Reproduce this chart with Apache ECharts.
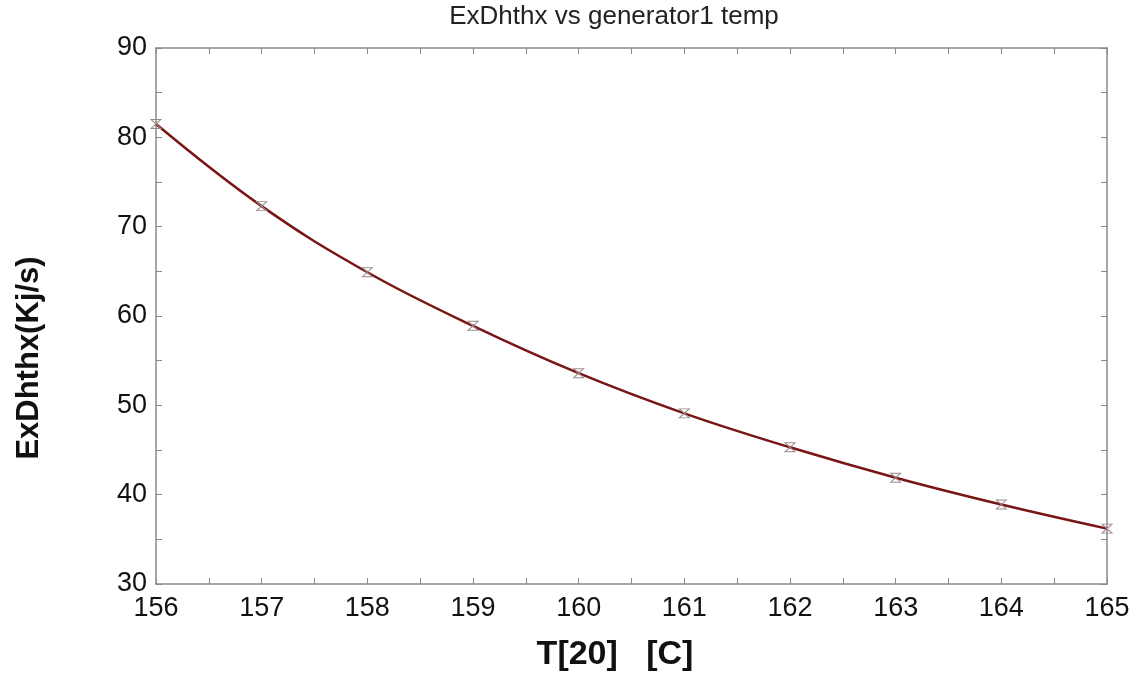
<!DOCTYPE html>
<html>
<head>
<meta charset="utf-8">
<script src="https://cdn.jsdelivr.net/npm/echarts@6/dist/echarts.min.js"></script>
<style>
  html, body { margin: 0; padding: 0; background: #fff; }
  #chart { width: 1139px; height: 682px; }
</style>
</head>
<body>
<div id="chart"></div>
<script>
// Generator 1 temperature T[20] in °C
const temps = [156, 157, 158, 159, 160, 161, 162, 163, 164, 165];
// Exergy destruction in the heat exchanger, kJ/s
const exDhthx = [81.5, 72.3, 64.9, 58.9, 53.6, 49.1, 45.3, 41.9, 38.9, 36.2];

const chartTitle = 'ExDhthx vs generator1 temp';
const xName = 'T[20]   [C]';
const yName = 'ExDhthx(Kj/s)';

const axisGray = '#8a8a8a';
const fontFam = '"Liberation Sans", Arial, sans-serif';

const tickCommon = {
  axisLine: { show: true, lineStyle: { color: axisGray, width: 1.5 } },
  axisTick: { show: true, inside: true, length: 6, lineStyle: { color: axisGray } },
  minorTick: { show: true, splitNumber: 2, length: 6, lineStyle: { color: axisGray } },
  splitLine: { show: false }
};

const chart = echarts.init(document.getElementById('chart'));
chart.setOption({
  backgroundColor: '#fff',
  animation: false,
  grid: { left: 156, right: 32, top: 48, bottom: 98 },
  xAxis: [
    Object.assign({
      type: 'value', min: 156, max: 165, interval: 1, position: 'bottom',
      axisLabel: { fontFamily: fontFam, fontSize: 27, color: '#111', margin: 11 }
    }, tickCommon),
    Object.assign({
      type: 'value', min: 156, max: 165, interval: 1, position: 'top',
      axisLabel: { show: false }
    }, tickCommon)
  ],
  yAxis: [
    Object.assign({
      type: 'value', min: 30, max: 90, interval: 10, position: 'left',
      axisLabel: { fontFamily: fontFam, fontSize: 27, color: '#111', margin: 9 }
    }, tickCommon),
    Object.assign({
      type: 'value', min: 30, max: 90, interval: 10, position: 'right',
      axisLabel: { show: false }
    }, tickCommon)
  ],
  graphic: [
    {
      type: 'text', x: 614, y: 17,
      style: {
        text: chartTitle, fontFamily: fontFam, fontSize: 26, fill: '#222',
        textAlign: 'center', textVerticalAlign: 'middle'
      }
    },
    {
      type: 'text', x: 615, y: 655,
      style: {
        text: xName, fontFamily: fontFam, fontSize: 34, fontWeight: 'bold', fill: '#111',
        textAlign: 'center', textVerticalAlign: 'middle'
      }
    },
    {
      type: 'text', x: 29, y: 358, rotation: Math.PI / 2,
      style: {
        text: yName, fontFamily: fontFam, fontSize: 31, fontWeight: 'bold', fill: '#111',
        textAlign: 'center', textVerticalAlign: 'middle'
      }
    }
  ],
  series: [{
    type: 'line',
    data: temps.map((t, i) => [t, exDhthx[i]]),
    smooth: 0.4,
    symbol: 'path://M0,0 L10,0 L0,10 L10,10 Z',
    symbolSize: [10, 9],
    showAllSymbol: true,
    itemStyle: { color: 'transparent', borderColor: '#9a8a8a', borderWidth: 1 },
    lineStyle: { color: '#7a1515', width: 2.5 },
    z: 3
  }]
});
</script>
</body>
</html>
